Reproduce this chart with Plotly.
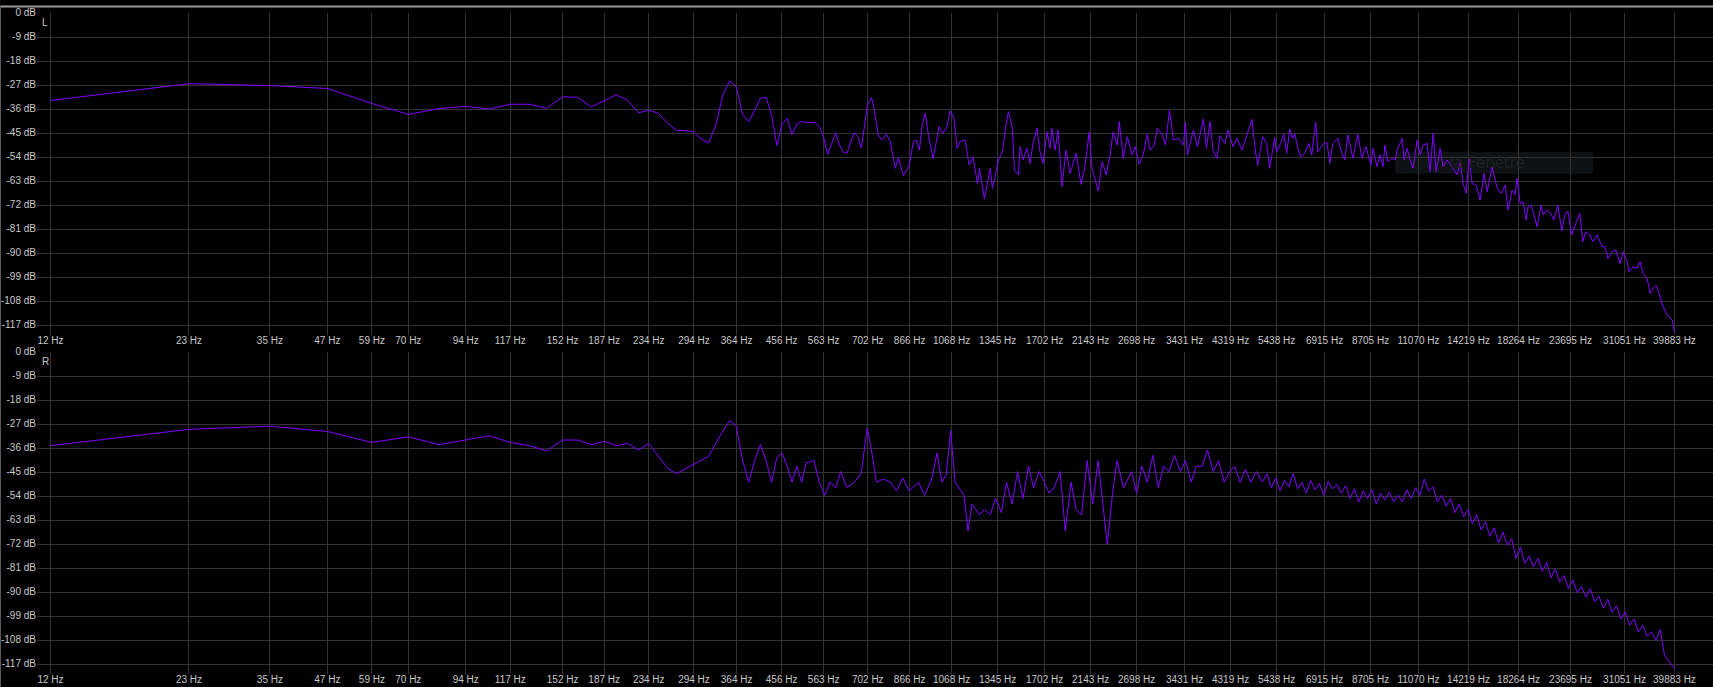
import plotly.graph_objects as go

# ---------------- data ----------------
tick_hz = [11.72, 23.44, 35.16, 46.88, 58.59, 70.31, 93.75, 117.2, 152.3, 187.5, 234.4,
           294, 364, 456, 563, 702, 866, 1068, 1345, 1702, 2143, 2698, 3431, 4319, 5438,
           6915, 8705, 11070, 14219, 18264, 23695, 31051, 39883]
tick_text = ["12 Hz", "23 Hz", "35 Hz", "47 Hz", "59 Hz", "70 Hz", "94 Hz", "117 Hz", "152 Hz",
             "187 Hz", "234 Hz", "294 Hz", "364 Hz", "456 Hz", "563 Hz", "702 Hz", "866 Hz",
             "1068 Hz", "1345 Hz", "1702 Hz", "2143 Hz", "2698 Hz", "3431 Hz", "4319 Hz",
             "5438 Hz", "6915 Hz", "8705 Hz", "11070 Hz", "14219 Hz", "18264 Hz", "23695 Hz",
             "31051 Hz", "39883 Hz"]
db_ticks = [0, -9, -18, -27, -36, -45, -54, -63, -72, -81, -90, -99, -108, -117]
db_text = ["0 dB", "-9 dB", "-18 dB", "-27 dB", "-36 dB", "-45 dB", "-54 dB", "-63 dB",
           "-72 dB", "-81 dB", "-90 dB", "-99 dB", "-108 dB", "-117 dB"]

left_hz = [11.72, 23.44, 35.16, 46.88, 58.59, 70.31, 82.03, 93.75, 105.5, 117.2, 128.9, 140.6,
           152.3, 164.1, 175.8, 187.5, 199.2, 210.9, 222.7, 234.4, 246.1, 257.8, 269.5, 281.3,
           293.0, 304.7, 316.4, 328.1, 339.8, 351.6, 363.3, 375.0, 386.7, 398.4, 410.2, 421.9,
           433.6, 445.3, 457.0, 468.8, 480.5, 492.2, 503.9, 515.6, 527.3, 539.1, 550.8, 562.5,
           574.2, 585.9, 597.7, 609.4, 621.1, 632.8, 644.5, 656.3, 668.0, 679.7,
           687, 701, 715, 722, 740, 752, 771, 786, 798, 806, 818, 839, 864, 882, 895, 909, 922,
           936, 951, 974, 988, 1003, 1023, 1044, 1060, 1081, 1098, 1114, 1143, 1166, 1189, 1216,
           1228, 1246, 1259, 1284, 1297, 1310, 1330, 1350, 1378, 1399, 1420, 1448, 1463, 1493,
           1505, 1528, 1558, 1582, 1606, 1638, 1663, 1688, 1723, 1749, 1766, 1793, 1820, 1857,
           1894, 1934, 1992, 2043, 2085, 2127, 2159, 2226, 2270, 2316, 2363, 2398, 2448, 2473,
           2523, 2574, 2639, 2679, 2733, 2789, 2845, 2888, 2948, 2992, 3070, 3117, 3180, 3244,
           3326, 3411, 3445, 3479, 3586, 3658, 3770, 3827, 3896, 3955, 4035, 4095, 4199, 4263,
           4371, 4460, 4573, 4689, 4808, 4880, 4947, 5072, 5175, 5253, 5333, 5386, 5438, 5551,
           5635, 5721, 5808, 5896, 5956, 6047, 6140, 6264, 6391, 6488, 6553, 6618, 6685, 6857,
           6995, 7101, 7209, 7391, 7540, 7655, 7773, 7969, 8170, 8338, 8507, 8722, 8810, 8989,
           9125, 9263, 9356, 9497, 9690, 9845, 9944, 10197, 10300, 10455, 10615, 10775, 10993,
           11159, 11328, 11557, 11732, 11910, 12090, 12335, 12521, 12774, 13096, 13429, 13633,
           13840, 14049, 14262, 14478, 14771, 15069, 15375, 15607, 16002, 16408, 16737, 17079,
           17336, 17687, 17955, 18137, 18410, 18690, 18973, 19164, 19455, 19650, 20050, 20456,
           20662, 21040, 21465, 21789, 22236, 22685, 23030, 23377, 23849, 24333, 24823, 25199,
           25578, 26095, 26489, 27067, 27749, 28164, 28589, 29166, 29754, 30373, 30835, 31455,
           31775, 32417, 33075, 33575, 34082, 34784, 35310, 35840, 36383, 36929, 37679, 38441,
           39426, 39883]
left_db = [-32.7, -26.4, -27.1, -28.2, -33.8, -37.9, -35.7, -34.9, -35.9, -34.1, -34.1, -35.6,
           -31.3, -31.5, -35.1, -32.9, -30.6, -32.6, -37.3, -36.4, -37.5, -41.3, -43.9, -44.0,
           -44.4, -47.1, -48.6, -41.9, -30.6, -25.3, -27.5, -37.9, -40.6, -36.3, -31.9, -31.5,
           -38.1, -49.6, -41.6, -39.4, -45.4, -41.6, -40.6, -40.9, -41.0, -41.0, -42.5, -46.3,
           -52.9, -48.4, -44.8, -49.4, -52.1, -52.5, -48.1, -44.8, -46.3, -50.5,
           -45, -34.4, -31.6, -34.4, -45.6, -47.5, -45.4, -48.1, -54.4, -58.1, -54.1, -60.9,
           -56.9, -48.1, -47.5, -51.3, -41.9, -37.5, -45.6, -54.6, -48.8, -42.5, -45, -42.5,
           -36.6, -39.4, -50.6, -48.1, -47.5, -56.9, -53.8, -63.8, -58.1, -64.4, -69.6, -61.9,
           -58.1, -65.6, -60.9, -55, -51.9, -43.1, -36.9, -43.1, -58.8, -60.6, -50, -55, -50.6,
           -56.3, -48.8, -43.1, -51.9, -56.3, -44.4, -50.6, -43.1, -51.3, -43.8, -65, -51.3,
           -60, -52.5, -64.1, -56.9, -44.6, -58.1, -66.6, -55.6, -60.6, -53.1, -44.4, -49.4,
           -40.6, -54.4, -46.3, -53.1, -50, -56.6, -53.1, -45.4, -51.3, -49.4, -43.1, -45.6,
           -49.4, -36.3, -47.5, -46.9, -49.4, -40.9, -53.1, -43.8, -50, -39.6, -50.6, -40.6,
           -51.3, -54.4, -45.9, -48.8, -43.8, -50, -46.9, -51.3, -45.6, -39.8, -50.6, -56.9,
           -46.3, -48.8, -58.1, -50, -46.6, -51.9, -48.8, -45.4, -52.5, -43.4, -46.9, -45,
           -50.6, -53.8, -52.5, -48.8, -53.1, -46.3, -40.9, -51.9, -49.1, -48.4, -56.3, -48.8,
           -46.9, -52.5, -55, -45.6, -54.4, -45.4, -54.4, -50, -56.9, -50.6, -57.5, -53.1,
           -57.5, -49.4, -55.6, -54.4, -55, -51.3, -46.9, -55, -50.6, -55, -58.1, -47.5, -53.1,
           -49.4, -48.8, -59.4, -45, -59.4, -50.6, -57.5, -55, -57.5, -60.6, -55.6, -63.8,
           -67.5, -54.4, -63.8, -64.4, -70, -60, -66.9, -57.5, -65.6, -67.5, -64.4, -73.8,
           -66.3, -68, -61.9, -71.3, -70.6, -77.5, -72.5, -71.9, -74.4, -80, -71.9, -75.6,
           -73.8, -75, -77.5, -71.9, -81.6, -75.6, -74.1, -83.1, -78.8, -75, -85.6, -81.9,
           -83.1, -85.6, -83.1, -87.5, -87.5, -91.9, -89.4, -88.8, -93.8, -89.4, -93.1, -96.9,
           -95, -95.6, -93.1, -97.5, -99.4, -105, -103.1, -101.9, -105, -110, -113.1, -115,
           -119.6]

right_hz = [11.72, 23.44, 35.16, 46.88, 58.59, 70.31, 82.03, 93.75, 105.5, 117.2, 128.9, 140.6,
            152.3, 164.1, 175.8, 187.5, 199.2, 210.9, 222.7, 234.4, 257.8, 269.5, 302, 316.4,
            337, 351.6, 363.3, 375, 386.7, 398.4, 410, 421.9, 433.6, 445.3, 457, 468.8, 480.5,
            492, 504, 515.6, 536, 550.8, 566, 581, 598, 613, 632, 656, 679, 700, 715, 733, 759,
            786, 811, 836, 864, 905, 933, 967, 993, 1018, 1040, 1063, 1087, 1109, 1137, 1160,
            1183, 1228, 1259, 1297, 1330, 1371, 1406, 1446, 1486, 1527, 1570, 1610, 1656, 1700,
            1740, 1785, 1840, 1887, 1943, 1992, 2048, 2106, 2165, 2225, 2286, 2329, 2392, 2446,
            2527, 2630, 2698, 2770, 2846, 2927, 3007, 3088, 3175, 3261, 3358, 3445, 3545, 3640,
            3747, 3848, 3960, 4066, 4184, 4300, 4404, 4528, 4653, 4784, 4913, 5063,
            5183, 5298, 5415, 5535, 5657, 5782, 5910, 6041, 6175, 6311, 6451, 6594, 6740, 6889,
            7041, 7197, 7356, 7519, 7685, 7855, 8029, 8207, 8388, 8574, 8764, 8958, 9156, 9358,
            9565, 9777, 9993, 10214, 10440, 10671, 10907, 11148, 11395, 11647, 11905, 12168,
            12437, 12712, 12993, 13281, 13574, 13875, 14182, 14495, 14816, 15144, 15479, 15821,
            16171, 16529, 16894, 17268, 17650, 18040, 18439, 18847, 19264, 19690, 20125, 20570,
            21025, 21490, 21965, 22451, 22948, 23455, 23974, 24504, 25046, 25600, 26166, 26745,
            27337, 27941, 28559, 29191, 29837, 30496, 31171, 31860, 32565, 33285, 34021, 34774,
            35543, 36329, 37132, 37953, 39883]
right_db = [-35.0, -28.9, -27.7, -29.7, -33.8, -31.7, -34.6, -32.9, -31.3, -33.8, -35.0, -37.0,
            -32.9, -32.9, -34.6, -33.4, -35.0, -34.2, -36.6, -34.2, -43.5, -45.5, -40.7, -39.0,
            -30.5, -25.6, -27.6, -40.6, -48.7, -40.6, -34.6, -40.6, -48.7, -39.4, -37.8, -42.7,
            -48.7, -42.7, -48.7, -41.4, -40.6, -48.7, -53.6, -48.7, -50.8, -44.7, -50.8, -48.7,
            -45.5, -28.4, -36.6, -48.7, -47.5, -48.7, -52, -47.1, -52, -48.7, -53.6, -47.5,
            -37.8, -48.7, -45.9, -29.3, -48.7, -50.8, -53.6, -67, -56.9, -60.9, -58.9, -60.9,
            -54.8, -60.1, -48.7, -56.9, -44.7, -54.8, -42.7, -50.8, -44.7, -48.7, -52.8, -50.8,
            -44.7, -67, -48.7, -58.9, -60.9, -40.6, -56.9, -40.6, -58.9, -71.9, -52.8, -40.6,
            -50.8, -44.7, -52.8, -42.7, -48.7, -38.6, -50.8, -42.7, -44.7, -38.6, -44.7, -40.6,
            -48.7, -42.7, -42.7, -36.6, -44.7, -40.6, -48.7, -44.7, -42.7, -48.7, -43.9, -48.7,
            -44.7, -48.7,
            -45.5, -50.8, -47.1, -52.0, -48.0, -50.4, -45.5, -51.2, -48.8, -52.8, -48.0, -51.6,
            -49.2, -53.6, -48.4, -51.2, -49.6, -52.8, -50.0, -54.8, -51.2, -56.1, -52.0, -54.8,
            -51.6, -56.9, -52.8, -55.3, -52.4, -56.1, -53.6, -56.1, -51.6, -54.8, -50.8, -53.6,
            -47.5, -52.0, -50.4, -56.1, -53.6, -57.7, -54.8, -60.1, -56.9, -61.7, -58.9, -64.2,
            -60.9, -66.6, -63.4, -69.0, -65.8, -71.5, -67.4, -72.3, -69.8, -77.2, -73.1, -79.2,
            -76.4, -80.4, -77.2, -82.1, -78.8, -84.5, -81.2, -86.1, -83.7, -88.6, -85.3, -90.2,
            -87.8, -91.8, -88.6, -93.4, -91.4, -95.9, -92.6, -97.4, -95.0, -99.9, -97.4, -102.3,
            -99.9, -104.8, -102.3, -106.4, -104.8, -108.0, -103.9, -113.7, -118.5]

# ---------------- figure ----------------
W, H = 1713, 687
LINE = "#8000ff"
GRID = "#333333"
TXT = "#c8c8c8"
FONT = "Liberation Sans"

fig = go.Figure()
fig.add_trace(go.Scatter(x=left_hz, y=left_db, mode="lines", line=dict(color=LINE, width=1),
                         xaxis="x", yaxis="y", showlegend=False, hoverinfo="skip"))
fig.add_trace(go.Scatter(x=right_hz, y=right_db, mode="lines", line=dict(color=LINE, width=1),
                         xaxis="x2", yaxis="y2", showlegend=False, hoverinfo="skip"))

xlo, xhi = 1.0395, 4.6846
x_dom = [37 / W, 1.0]
top_dom = [1 - 331.7 / H, 1 - 7.03 / H]
bot_dom = [1 - 673.7 / H, 1 - 349.03 / H]

xcommon = dict(type="log", range=[xlo, xhi], domain=x_dom, tickmode="array",
               tickvals=tick_hz, ticktext=tick_text, showgrid=True, gridcolor=GRID,
               gridwidth=1, zeroline=False, showline=False, ticks="",
               ticklabelstandoff=-2,
               tickfont=dict(family=FONT, size=10, color=TXT), tickangle=0)
ycommon = dict(range=[-120.5, 0.1], tickmode="array", tickvals=db_ticks, ticktext=db_text,
               showgrid=True, gridcolor=GRID, gridwidth=1, zeroline=False, showline=False,
               ticks="", ticklabelshift=-1,
               tickfont=dict(family=FONT, size=10, color=TXT))

fig.update_layout(
    width=W, height=H, margin=dict(l=0, r=0, t=0, b=0),
    paper_bgcolor="#000000", plot_bgcolor="#000000",
    xaxis=dict(**xcommon, anchor="y"),
    yaxis=dict(**ycommon, domain=top_dom, anchor="x"),
    xaxis2=dict(**xcommon, anchor="y2"),
    yaxis2=dict(**ycommon, domain=bot_dom, anchor="x2"),
    showlegend=False,
)

# window borders
fig.add_shape(type="line", xref="paper", yref="paper", x0=0, x1=1, y0=1 - 0.5 / H, y1=1 - 0.5 / H,
              line=dict(color="#9a9a9a", width=2))
fig.add_shape(type="line", xref="paper", yref="paper", x0=0.5 / W, x1=0.5 / W, y0=0, y1=1,
              line=dict(color="#5a5a5a", width=1))

# channel letters
fig.add_annotation(text="L", xref="paper", yref="paper", x=44.5 / W, y=1 - 16.5 / H,
                   xanchor="center", yanchor="middle", showarrow=False,
                   font=dict(family=FONT, size=10, color=TXT))
fig.add_annotation(text="R", xref="paper", yref="paper", x=45 / W, y=1 - 359 / H,
                   xanchor="center", yanchor="middle", showarrow=False,
                   font=dict(family=FONT, size=10, color=TXT))

# faint tooltip box
fig.add_shape(type="rect", xref="paper", yref="paper", x0=1395 / W, x1=1593 / W,
              y0=1 - 169 / H, y1=1 - 147 / H, fillcolor="#0e1214", line=dict(width=0),
              layer="below")
fig.add_annotation(text="la Fenêtre", xref="paper", yref="paper", x=1487 / W, y=1 - 158 / H,
                   xanchor="center", yanchor="middle", showarrow=False,
                   font=dict(family="DejaVu Sans", size=15, color="#1c2022"))

fig.write_html("out.html", config={"displayModeBar": False},
               post_script="document.body.style.margin='0';document.body.style.background='#000';")
